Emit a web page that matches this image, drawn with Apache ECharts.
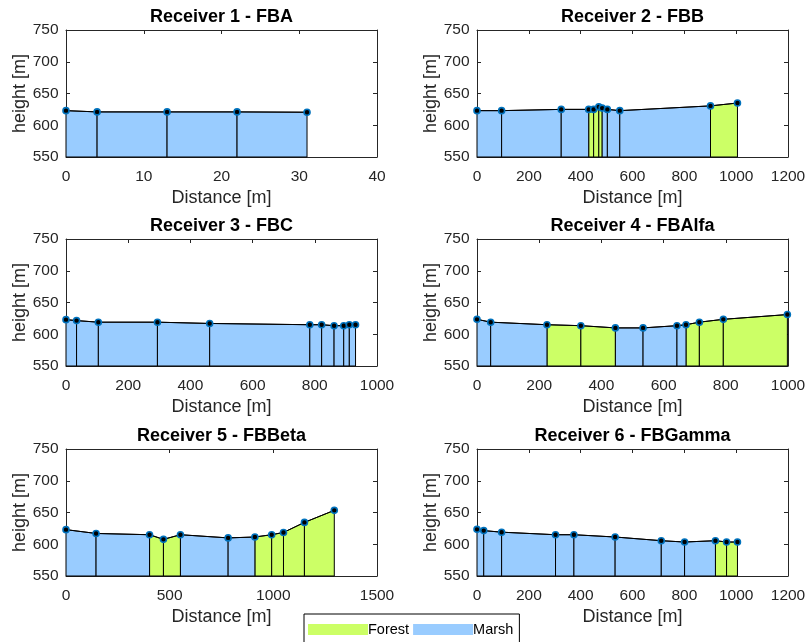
<!DOCTYPE html>
<html><head><meta charset="utf-8">
<script src="https://cdn.jsdelivr.net/npm/echarts@6/dist/echarts.min.js"></script>
<style>html,body{margin:0;padding:0;background:#fff}#c{width:809px;height:642px}</style>
</head><body><div id="c"></div>
<script>
// ---- data ----
const titles = ['Receiver 1 - FBA','Receiver 2 - FBB','Receiver 3 - FBC','Receiver 4 - FBAlfa','Receiver 5 - FBBeta','Receiver 6 - FBGamma'];
const xMax = [40, 1200, 1000, 1000, 1500, 1200];
const xStep = [10, 200, 200, 200, 500, 200];

const dist1 = [0, 4, 13, 22, 31];
const h1    = [623, 621, 621, 621, 620.5];
const cov1  = ['M','M','M','M'];

const dist2 = [0, 95, 325, 431, 450, 470, 483, 503, 551, 901, 1005];
const h2    = [623, 623, 625, 625, 625, 629, 627, 625, 623, 630.5, 635];
const cov2  = ['M','M','M','F','F','F','M','M','M','F'];

const dist3 = [0, 34, 104, 294, 462, 784, 822, 862, 893, 911, 931];
const h3    = [623, 621.5, 619, 619, 617, 615, 615, 613.5, 613.5, 615, 615];
const cov3  = ['M','M','M','M','M','M','M','M','M','M'];

const dist4 = [0, 44, 225, 334, 445, 534, 643, 672, 715, 792, 998];
const h4    = [623.5, 619, 615, 613.5, 610, 610, 613.5, 615, 619, 623.5, 631];
const cov4  = ['M','M','F','F','M','M','M','F','F','F'];

const dist5 = [0, 145, 403, 470, 552, 782, 911, 992, 1049, 1150, 1294];
const h5    = [623, 617, 615, 607.7, 615, 610, 611.4, 615, 618.6, 634.4, 653.4];
const cov5  = ['M','M','F','F','M','M','F','F','F','F'];

const dist6 = [0, 26, 95, 303, 374, 533, 711, 801, 920, 963, 1005];
const h6    = [623.5, 621.5, 619, 615, 615, 611.4, 605.6, 603.5, 605.6, 603.5, 603.5];
const cov6  = ['M','M','M','M','M','M','M','M','F','F'];

const dists = [dist1, dist2, dist3, dist4, dist5, dist6];
const heights = [h1, h2, h3, h4, h5, h6];
const covers = [cov1, cov2, cov3, cov4, cov5, cov6];
const yTicks = [550, 600, 650, 700, 750];

// ---- style ----
const FOREST = '#ccff66', MARSH = '#99ccff', AX = '#262626';
const FONT = '"Liberation Sans", Arial, Helvetica, sans-serif';
const gridPos = [[66,30],[477,30],[66,239],[477,239],[66,449],[477,449]];
const GW = 311, GH = 127;

const grid = [], xAxis = [], yAxis = [], series = [], graphic = [];

function renderSeg(color) {
  return function(params, api) {
    const x0 = api.value(0), y0 = api.value(1), x1 = api.value(2), y1 = api.value(3);
    const p0 = api.coord([x0, yTicks[0]]), p1 = api.coord([x0, y0]);
    const p2 = api.coord([x1, y1]), p3 = api.coord([x1, yTicks[0]]);
    return { type: 'polygon', shape: { points: [p0, p1, p2, p3] },
      style: { fill: color, stroke: '#000', lineWidth: 1 } };
  };
}

for (let i = 0; i < 6; i++) {
  const [l, t] = gridPos[i];
  grid.push({ left: l, top: t, width: GW, height: GH, containLabel: false });
  const axCommon = {
    type: 'value', min: 0, max: xMax[i], interval: xStep[i], gridIndex: i,
    axisLine: { show: true, onZero: false, lineStyle: { color: AX, width: 1 } },
    axisTick: { show: true, inside: true, length: 4, lineStyle: { color: AX } },
    splitLine: { show: false }
  };
  xAxis.push(Object.assign({}, axCommon, {
    position: 'bottom',
    axisLabel: { color: AX, fontSize: 15.5, fontFamily: FONT, margin: 12, formatter: v => String(v) },
    name: 'Distance [m]', nameLocation: 'middle', nameGap: 32,
    nameTextStyle: { color: AX, fontSize: 18, fontFamily: FONT }
  }));
  xAxis.push(Object.assign({}, axCommon, { position: 'top', axisLabel: { show: false } }));
  const ayCommon = {
    type: 'value', min: 550, max: 750, interval: 50, gridIndex: i,
    axisLine: { show: true, onZero: false, lineStyle: { color: AX, width: 1 } },
    axisTick: { show: true, inside: true, length: 4, lineStyle: { color: AX } },
    splitLine: { show: false }
  };
  yAxis.push(Object.assign({}, ayCommon, {
    position: 'left',
    axisLabel: { color: AX, fontSize: 15.5, fontFamily: FONT, margin: 7.5, formatter: v => String(v) },
    name: 'height [m]', nameLocation: 'middle', nameGap: 37,
    nameTextStyle: { color: AX, fontSize: 18, fontFamily: FONT }
  }));
  yAxis.push(Object.assign({}, ayCommon, { position: 'right', axisLabel: { show: false } }));

  const d = dists[i], h = heights[i], c = covers[i];
  const fSegs = [], mSegs = [];
  for (let k = 0; k < d.length - 1; k++) {
    const seg = [d[k], h[k], d[k+1], h[k+1]];
    (c[k] === 'F' ? fSegs : mSegs).push(seg);
  }
  [['Forest', FOREST, fSegs], ['Marsh', MARSH, mSegs]].forEach(([nm, col, segs]) => {
    series.push({
      type: 'custom', name: nm, xAxisIndex: 2*i, yAxisIndex: 2*i,
      itemStyle: { color: col }, renderItem: renderSeg(col),
      encode: { x: [0, 2], y: [1, 3] }, data: segs, silent: true, animation: false
    });
  });
  series.push({
    type: 'line', xAxisIndex: 2*i, yAxisIndex: 2*i,
    data: d.map((x, k) => [x, h[k]]),
    lineStyle: { color: '#000', width: 1 },
    symbol: 'circle', symbolSize: 6, showSymbol: true,
    itemStyle: { color: '#000', borderColor: '#0072BD', borderWidth: 1.6 },
    z: 5, animation: false, silent: true
  });
  graphic.push({
    type: 'text', x: l + GW / 2, y: t - 12.5,
    style: { text: titles[i], fill: '#000', font: 'bold 18px ' + FONT, textAlign: 'center', textVerticalAlign: 'middle' }
  });
}

const chart = echarts.init(document.getElementById('c'), null, { renderer: 'canvas' });
chart.setOption({
  animation: false,
  backgroundColor: '#fff',
  grid, xAxis, yAxis, series, graphic,
  legend: {
    data: ['Forest', 'Marsh'], left: 304, top: 614, orient: 'horizontal',
    itemWidth: 60, itemHeight: 11, itemGap: 4, padding: [8, 6, 12, 4],
    icon: 'rect', borderColor: '#000', borderWidth: 1, backgroundColor: '#fff',
    textStyle: { color: '#000', fontSize: 14.5, fontFamily: FONT, padding: [0, 0, 0, -5] },
    selectedMode: false
  }
});
</script></body></html>
